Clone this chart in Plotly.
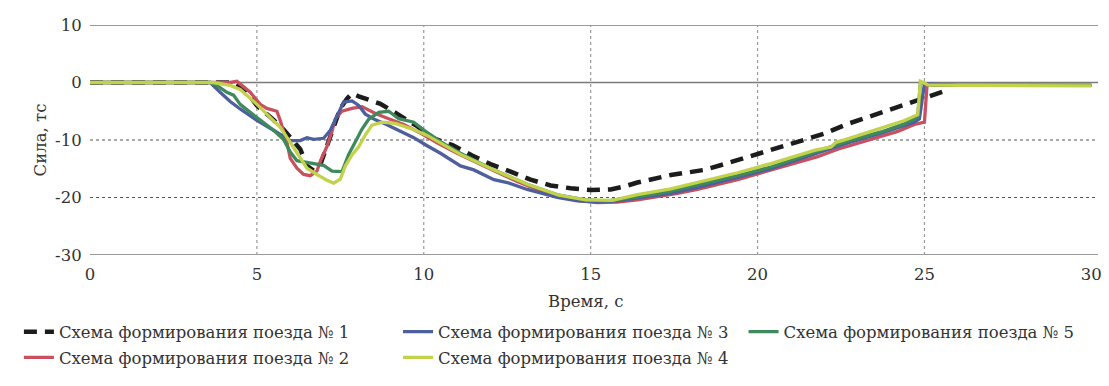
import plotly.graph_objects as go

# ---------------- data ----------------
t1 = [0, 4.3, 4.6, 5.0, 5.5, 5.8, 6.3, 6.5, 6.7, 6.9, 7.1, 7.3, 7.5, 7.7, 7.85, 8.05, 8.7, 9.3,
      9.8, 10.3, 10.86, 11.45, 12.0, 12.6, 13.2, 13.8, 14.4, 15.0, 15.6, 16.0, 16.4, 17.4, 18.4,
      19.0, 19.9, 20.4, 20.9, 21.5, 22.0, 22.7, 23.2, 23.7, 24.5, 24.9, 25.7]
v1 = [0, 0, -1.0, -4.0, -6.5, -8.2, -11.6, -14.5, -15.3, -14.3, -11.0, -7.5, -4.5, -2.8, -1.9,
      -2.4, -3.7, -5.8, -7.6, -9.7, -10.9, -12.7, -14.2, -15.5, -16.9, -17.9, -18.4, -18.7,
      -18.6, -18.1, -17.4, -16.1, -15.2, -14.2, -12.6, -11.8, -10.8, -9.8, -8.9, -7.2, -6.2,
      -5.3, -3.6, -2.7, -1.3]

t2 = [0, 4.2, 4.4, 4.8, 5.1, 5.3, 5.6, 5.7, 5.9, 6.0, 6.2, 6.4, 6.6, 6.8, 6.9, 7.1, 7.25, 7.35,
      7.55, 7.85, 8.15, 8.55, 8.95, 9.4, 9.9, 10.4, 11.0, 11.6, 12.2, 12.8, 13.4, 14.0, 14.6,
      15.2, 15.8, 16.4, 17.0, 17.6, 18.2, 18.8, 19.4, 20.0, 20.6, 21.2, 21.8, 22.4, 23.0, 23.6,
      24.2, 24.7, 25.0, 25.08, 25.3, 26.0, 30.0]
v2 = [0, 0, 0.2, -1.7, -3.8, -4.5, -5.0, -6.6, -10.4, -13.2, -14.9, -16.0, -16.2, -15.4, -13.7,
      -11.1, -8.5, -6.3, -5.0, -4.5, -4.2, -5.4, -6.3, -7.3, -8.8, -10.5, -12.3, -14.0, -15.6,
      -17.2, -18.6, -19.7, -20.5, -20.9, -20.8, -20.4, -19.9, -19.3, -18.6, -17.8, -16.9,
      -15.9, -14.9, -13.9, -12.9, -11.6, -10.6, -9.6, -8.5, -7.3, -6.9, -0.3, -0.4, -0.5, -0.5]

t3 = [0, 3.6, 3.9, 4.2, 4.5, 5.0, 5.5, 5.8, 6.0, 6.3, 6.5, 6.7, 7.0, 7.2, 7.4, 7.6, 7.85, 8.05,
      8.25, 8.55, 8.85, 9.3, 9.7, 10.1, 10.5, 11.1, 11.5, 12.1, 12.5, 13.1, 13.5, 14.0, 14.6,
      15.2, 15.8, 16.4, 17.4, 18.4, 19.4, 20.4, 21.0, 21.7, 22.7, 23.7, 24.7, 24.85, 25.0, 26.0,
      30.0]
v3 = [0, 0, -1.7, -3.3, -4.6, -6.6, -8.3, -9.4, -10.1, -10.1, -9.6, -9.9, -9.7, -8.3, -6.0,
      -3.4, -3.2, -4.0, -5.5, -6.5, -7.2, -8.4, -9.6, -11.0, -12.3, -14.5, -15.2, -16.9, -17.4,
      -18.6, -19.2, -20.0, -20.6, -20.8, -20.6, -20.1, -19.3, -18.0, -16.5, -15.0, -13.8,
      -12.5, -10.5, -8.8, -6.9, -6.3, -0.2, -0.5, -0.5]

t4 = [0, 3.7, 4.2, 4.5, 5.0, 5.3, 5.7, 6.0, 6.3, 6.5, 6.8, 7.1, 7.3, 7.5, 7.65, 7.85, 8.05,
      8.25, 8.45, 8.75, 9.15, 9.75, 10.1, 11.1, 12.1, 13.1, 14.05, 14.85, 15.65, 16.4, 17.4,
      18.4, 19.4, 20.4, 21.0, 21.7, 22.2, 22.35, 22.7, 23.7, 24.4, 24.8, 24.88, 25.1, 26.0,
      30.0]
v4 = [0, 0, -0.5, -1.2, -3.8, -5.5, -7.8, -10.4, -13.2, -14.9, -16.0, -17.0, -17.5, -16.8,
      -14.5, -12.6, -11.2, -9.1, -7.4, -6.9, -7.1, -8.3, -9.2, -12.5, -15.2, -17.7, -19.6,
      -20.4, -20.5, -19.5, -18.5, -17.1, -15.7, -14.1, -13.0, -11.8, -11.2, -10.4, -9.8, -8.0,
      -6.6, -5.6, 0.2, -0.4, -0.5, -0.6]

t5 = [0, 3.6, 3.8, 4.1, 4.3, 4.5, 5.0, 5.5, 5.8, 6.0, 6.2, 6.4, 6.7, 7.0, 7.25, 7.55, 7.75,
      7.95, 8.15, 8.35, 8.65, 8.95, 9.25, 9.7, 10.0, 10.5, 11.1, 12.1, 13.1, 14.05, 14.85,
      15.5, 16.4, 17.4, 18.4, 19.4, 20.4, 21.0, 21.7, 22.7, 23.7, 24.4, 24.8, 24.88, 25.1,
      26.0, 30.0]
v5 = [0, 0, -0.5, -1.7, -2.2, -3.8, -6.1, -8.3, -9.9, -12.1, -13.6, -13.8, -14.1, -14.4, -15.4,
      -15.5, -12.5, -10.4, -8.1, -6.4, -5.2, -5.0, -6.3, -6.9, -8.3, -10.3, -12.3, -15.2,
      -17.7, -19.6, -20.4, -20.6, -19.9, -18.9, -17.6, -16.2, -14.7, -13.5, -12.2, -10.2,
      -8.6, -7.2, -6.0, 0.1, -0.4, -0.5, -0.5]

names = ["Схема формирования поезда № 1", "Схема формирования поезда № 2",
         "Схема формирования поезда № 3", "Схема формирования поезда № 4",
         "Схема формирования поезда № 5"]
colors = ["#1c1c1c", "#c9505f", "#4d5f9c", "#c2d24a", "#3f8a5c"]

x_ticks = [0, 5, 10, 15, 20, 25, 30]
y_ticks = [10, 0, -10, -20, -30]
solid_y = [10, 0, -30]
dotted_y = [-10, -20]
dotted_x = [5, 10, 15, 20, 25]

FONT = "DejaVu Serif"
FS = 16.5
TXT = "#333333"

# The page body has an 8px default margin: the figure is sized/margined to compensate.
W, H = 1101, 378
ML, MR, MT, MB = 69, 11, 17, 119
PW = W - ML - MR
PH = H - MT - MB


def px_x(screen_x):
    return (screen_x - 8 - ML) / PW


def px_y(screen_y):
    return (H - MB - (screen_y - 8)) / PH


# ---------------- figure ----------------
fig = go.Figure()
series = [(t1, v1), (t2, v2), (t3, v3), (t5, v5), (t4, v4)]
idx = [0, 1, 2, 4, 3]
leg_ids = ["legend", "legend2", "legend3", "legend4", "legend5"]
for (tt, vv), i in zip(series, idx):
    fig.add_trace(go.Scatter(
        x=tt, y=vv, mode="lines", name=names[i],
        line=dict(color=colors[i], width=4.5 if i == 0 else 3.3,
                  dash="13px,8px" if i == 0 else "solid"),
        legend=leg_ids[i], showlegend=True,
    ))

shapes = []
for y in solid_y:
    shapes.append(dict(type="line", xref="paper", yref="y", x0=0, x1=1, y0=y, y1=y,
                       line=dict(color="#7a7a7a", width=1.6), layer="below"))
for y in dotted_y:
    shapes.append(dict(type="line", xref="paper", yref="y", x0=0, x1=1, y0=y, y1=y,
                       line=dict(color="#555555", width=1.2, dash="dot"), layer="below"))
for x in dotted_x:
    shapes.append(dict(type="line", xref="x", yref="paper", x0=x, x1=x, y0=0, y1=1,
                       line=dict(color="#9a9a9a", width=1.2, dash="dot"), layer="below"))

leg_common = dict(orientation="v", bgcolor="rgba(0,0,0,0)", borderwidth=0,
                  font=dict(family=FONT, size=FS, color=TXT),
                  yanchor="middle", xanchor="left")
# legend columns (left edge of each legend box, screen px) and rows (screen px)
col_left = [5, 389, 739]
row_y = [348, 375]
leg_pos = [(0, 0), (0, 1), (1, 0), (1, 1), (2, 0)]
legends = {}
for k, (c, r) in enumerate(leg_pos):
    legends[leg_ids[k]] = dict(leg_common, x=px_x(col_left[c]), y=px_y(row_y[r]))

fig.update_layout(
    width=W, height=H,
    margin=dict(l=ML, r=MR, t=MT, b=MB),
    paper_bgcolor="white", plot_bgcolor="white",
    font=dict(family=FONT, size=FS, color=TXT),
    showlegend=True,
    shapes=shapes,
    **legends,
    annotations=[dict(text="Время, с", xref="paper", yref="paper",
                      x=px_x(579), y=px_y(316), xanchor="center", yanchor="middle",
                      showarrow=False, font=dict(family=FONT, size=FS, color=TXT))],
    xaxis=dict(range=[0, 30.2], tickvals=x_ticks, ticktext=[str(v) for v in x_ticks],
               showgrid=False, zeroline=False, showline=False,
               ticks="outside", ticklen=4, tickcolor="rgba(0,0,0,0)",
               tickfont=dict(family=FONT, size=FS, color=TXT),
               automargin=False, fixedrange=True),
    yaxis=dict(range=[-30, 10], tickvals=y_ticks, ticktext=[str(v) for v in y_ticks],
               showgrid=False, zeroline=False, showline=False,
               ticks="outside", ticklen=4, tickcolor="rgba(0,0,0,0)",
               tickfont=dict(family=FONT, size=FS, color=TXT),
               title=dict(text="Сила, тс", standoff=4,
                          font=dict(family=FONT, size=FS, color=TXT)),
               automargin=False, fixedrange=True),
)

fig.write_html("out.html")
